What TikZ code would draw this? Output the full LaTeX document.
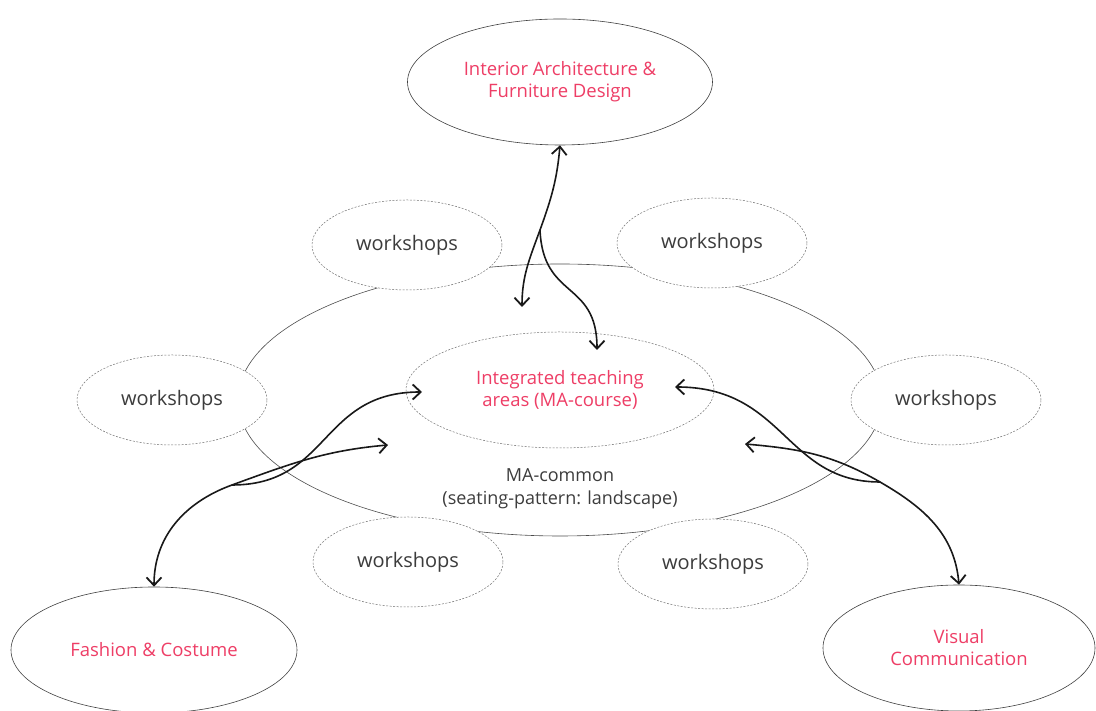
\documentclass[tikz,border=0pt]{standalone}
\usepackage{fontspec}
\setmainfont{Open Sans}
\usetikzlibrary{arrows,arrows.meta,shapes.geometric,positioning}
\definecolor{deptred}{RGB}{238,62,102}
\definecolor{wsgrey}{RGB}{60,60,60}

\begin{document}
\begin{tikzpicture}[x=1pt,y=1pt,>={Straight Barb[length=8pt,width=15pt,line width=1.8pt]},on grid,
    dept node/.style={ellipse,draw=black!75,line width=0.6pt,fill=white,inner sep=0pt,
      text=deptred,font=\fontsize{18.5}{22}\selectfont,align=center},
    work node/.style={ellipse,draw=black!55,dash pattern=on 2pt off 1.5pt,line width=0.5pt,
      fill=white,minimum width=190pt,minimum height=90pt,inner sep=0pt,text=wsgrey,
      font=\fontsize{20}{22}\selectfont},
    link/.style={line width=1.6pt,black!90}]
    \useasboundingbox (0,0) rectangle (1096,711);

    \node[ellipse,draw=black!70,line width=0.6pt,minimum width=644pt,minimum height=272pt] (ma) at (560,311) {};
    \node[work node,text=deptred,align=center,font=\fontsize{18.5}{22}\selectfont,
      minimum width=308pt,minimum height=116pt] (ita) [above=10pt of ma]
      {Integrated teaching\\areas (MA-course)};
    \node[text=wsgrey,align=center,font=\fontsize{18}{23}\selectfont] (matext) [below=99pt of ita]
      {MA-common\\(seating-pattern: landscape)};

    \node[work node] (ws1) [above left=155pt and 153pt of ma] {workshops};
    \node[work node] (ws2) [above right=157pt and 152pt of ma] {workshops};
    \node[work node] (ws3) [left=388pt of ma] {workshops};
    \node[work node] (ws4) [right=386pt of ma] {workshops};
    \node[work node] (ws5) [below left=162pt and 152pt of ma] {workshops};
    \node[work node] (ws6) [below right=164pt and 153pt of ma] {workshops};

    \node[dept node,minimum width=305pt,minimum height=126pt] (iad) [above=318pt of ma]
      {Interior Architecture \&\\Furniture Design};
    \node[dept node,minimum width=286pt,minimum height=126pt] (fc) [below left=250pt and 406pt of ma]
      {Fashion \& Costume};
    \node[dept node,minimum width=272pt,minimum height=126pt] (vc) [below right=248pt and 399pt of ma]
      {Visual\\Communication};

    \coordinate (tfork) at (540,481);
    \coordinate (tma) at (522,404);
    \coordinate (titip) at (597,361);
    \coordinate (lfork) at (232,226);
    \coordinate (lma) at (388,266);
    \coordinate (litip) at (422,319);
    \coordinate (rfork) at (880,229);
    \coordinate (rma) at (745,267);
    \coordinate (ritip) at (675,324);

    \draw[link,<->] (iad.south) to[out=-95,in=70] (tfork) to[out=250,in=90] (tma);
    \draw[link,->] (tfork) .. controls (543,411) and (597,431) .. (titip);
    \draw[link,<->] (fc.north) to[out=90,in=200] (lfork) to[out=20,in=185] (lma);
    \draw[link,->] (lfork) .. controls (330,226) and (320,319) .. (litip);
    \draw[link,<->] (vc.north) to[out=95,in=-30] (rfork) to[out=150,in=-5] (rma);
    \draw[link,->] (rfork) .. controls (785,229) and (785,324) .. (ritip);
\end{tikzpicture}
\end{document}
